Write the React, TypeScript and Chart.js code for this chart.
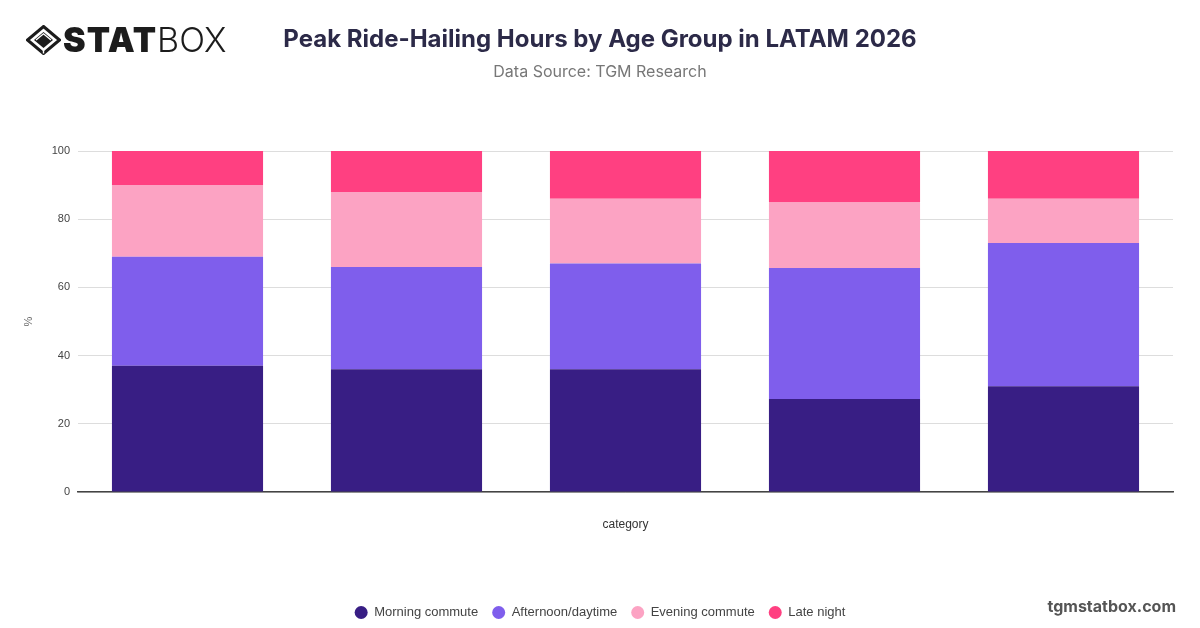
import React, { useEffect, useRef } from "react";
import { Chart, registerables } from "chart.js";

Chart.register(...registerables);

const categories = ["18–24", "25–34", "35–44", "45–54", "55+"];
const seriesNames = ["Morning commute", "Afternoon/daytime", "Evening commute", "Late night"];
const morningCommute = [37, 36, 36, 27.3, 31];
const afternoonDaytime = [32, 30, 31, 38.4, 42];
const eveningCommute = [21, 22, 19, 19.2, 13];
const lateNight = [10, 12, 14, 15.1, 14];
const seriesColors = ["#381E84", "#7F5EEC", "#FCA3C3", "#FF4081"];
const yTicks = [0, 20, 40, 60, 80, 100];

const TICK_FONT = "'Liberation Sans', Arial, Helvetica, sans-serif";

function StatboxLogo() {
  return (
    <div style={{ position: "absolute", left: 26, top: 22, height: 40, width: 220 }}>
      <svg width="35" height="30" viewBox="0 0 35 30" style={{ position: "absolute", left: 0, top: 3 }}>
        <polygon points="17.5,1.5 33.5,15 17.5,28.5 1.5,15" fill="none" stroke="#1c1c1c" strokeWidth="3" />
        <polygon points="17.5,7 27,15 17.5,23 8,15" fill="#1c1c1c" />
        <polyline points="10,15 17.5,8.8 25,15" fill="none" stroke="#ffffff" strokeWidth="1.4" />
        <line x1="17.5" y1="23" x2="17.5" y2="28.5" stroke="#ffffff" strokeWidth="1.4" />
      </svg>
      <div
        style={{
          position: "absolute",
          left: 37,
          top: 0.6,
          fontFamily: "Inter, 'Open Sans', sans-serif",
          fontSize: 34,
          lineHeight: "34px",
          color: "#1c1c1c",
          whiteSpace: "nowrap",
        }}
      >
        <span style={{ fontWeight: 900, letterSpacing: "1px" }}>STAT</span>
        <span style={{ fontWeight: 300 }}>BOX</span>
      </div>
    </div>
  );
}

export default function App() {
  const canvasRef = useRef<HTMLCanvasElement | null>(null);

  useEffect(() => {
    const canvas = canvasRef.current;
    if (!canvas) return;
    const seriesValues = [morningCommute, afternoonDaytime, eveningCommute, lateNight];
    const chart = new Chart(canvas, {
      type: "bar",
      data: {
        labels: categories,
        datasets: seriesNames.map((name, i) => ({
          label: name,
          data: seriesValues[i],
          backgroundColor: seriesColors[i],
          borderWidth: 0,
          barPercentage: 0.69,
          categoryPercentage: 1,
        })),
      },
      options: {
        responsive: false,
        animation: false,
        devicePixelRatio: 1,
        layout: { padding: { left: 27, right: 27, top: 151, bottom: 0 } },
        plugins: {
          tooltip: { enabled: false },
          legend: {
            position: "bottom",
            align: "center",
            labels: {
              usePointStyle: true,
              pointStyle: "circle",
              boxHeight: 9.2,
              boxWidth: 13,
              padding: 14,
              color: "#444444",
              font: { family: TICK_FONT, size: 13 },
            },
          },
        },
        scales: {
          x: {
            stacked: true,
            grid: { display: false, drawTicks: false },
            border: { display: true, color: "#444444", width: 1.5 },
            ticks: { display: false },
            title: {
              display: true,
              text: "category",
              color: "#333333",
              font: { family: TICK_FONT, size: 12 },
              padding: { top: 0, bottom: 59.8 },
            },
            afterFit: (scale: any) => {
              scale.height = 100;
            },
          },
          y: {
            stacked: true,
            min: 0,
            max: 100,
            afterBuildTicks: (scale: any) => {
              scale.ticks = yTicks.map((v) => ({ value: v }));
            },
            grid: { color: "#DDDDDD", lineWidth: 1, drawTicks: false },
            border: { display: false },
            ticks: {
              padding: 8,
              color: "#444444",
              font: { family: TICK_FONT, size: 11 },
            },
            title: {
              display: true,
              text: "%",
              color: "#666666",
              font: { family: TICK_FONT, size: 11, lineHeight: 1 },
              padding: { top: -3.5, bottom: 0 },
            },
            afterFit: (scale: any) => {
              scale.width = 51;
            },
          },
        },
      },
    });
    return () => chart.destroy();
  }, []);

  return (
    <div
      style={{
        position: "fixed",
        left: 0,
        top: 0,
        width: 1200,
        height: 628,
        overflow: "hidden",
        background: "#ffffff",
      }}
    >
      <canvas
        ref={canvasRef}
        width={1200}
        height={629}
        style={{ position: "absolute", left: 0, top: 0, width: 1200, height: 629 }}
      />
      <StatboxLogo />
      <div
        style={{
          position: "absolute",
          left: 0,
          width: 1200,
          top: 27,
          textAlign: "center",
          fontFamily: "Inter, 'Open Sans', sans-serif",
          fontWeight: 700,
          fontSize: 24,
          lineHeight: "24px",
          color: "#2C2A48",
        }}
      >
        Peak Ride-Hailing Hours by Age Group in LATAM 2026
      </div>
      <div
        style={{
          position: "absolute",
          left: 0,
          width: 1200,
          top: 63,
          textAlign: "center",
          fontFamily: "Inter, 'Open Sans', sans-serif",
          fontWeight: 400,
          fontSize: 16,
          lineHeight: "16px",
          color: "#777777",
        }}
      >
        Data Source: TGM Research
      </div>
      <div
        style={{
          position: "absolute",
          right: 24,
          top: 598,
          fontFamily: "Inter, 'Open Sans', sans-serif",
          fontWeight: 700,
          fontSize: 16,
          lineHeight: "16px",
          color: "#555555",
        }}
      >
        tgmstatbox.com
      </div>
    </div>
  );
}
